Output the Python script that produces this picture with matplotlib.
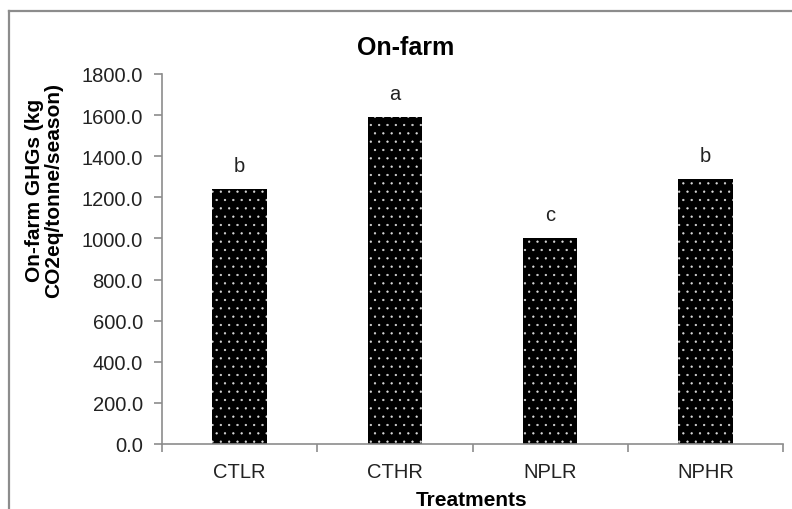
import matplotlib
matplotlib.use("Agg")
import matplotlib.pyplot as plt
from matplotlib.lines import Line2D

plt.rcParams["font.family"] = ["Liberation Sans", "DejaVu Sans"]
plt.rcParams["hatch.linewidth"] = 0.4

treatments = ["CTLR", "CTHR", "NPLR", "NPHR"]
ghg_values = [1240.0, 1592.0, 1003.0, 1287.0]
letters = ["b", "a", "c", "b"]
y_ticks = [0, 200, 400, 600, 800, 1000, 1200, 1400, 1600, 1800]

title = "On-farm"
y_label = "On-farm GHGs (kg\nCO2eq/tonne/season)"
x_label = "Treatments"

GRAY = "#8c8c8c"
TXT = "#222222"


def main():
    fig = plt.figure(figsize=(7.92, 5.10), dpi=100)
    ax = fig.add_axes([162 / 792, 65 / 510, 621 / 792, 370 / 510])

    xs = list(range(1, len(treatments) + 1))
    ax.bar(xs, ghg_values, width=0.35, color="black", edgecolor="#dddddd",
           linewidth=0, hatch="..")

    for x, v, lab in zip(xs, ghg_values, letters):
        ax.annotate(lab, xy=(x, v), xytext=(0, 17), textcoords="offset points",
                    ha="center", va="center", fontsize=14.5, color=TXT)

    ax.set_xlim(0.5, len(treatments) + 0.5)
    ax.set_ylim(0, 1800)
    ax.set_yticks(y_ticks)
    ax.set_yticklabels([f"{t:.1f}" for t in y_ticks])
    ax.set_xticks(xs)
    ax.set_xticklabels(treatments)
    ax.set_xticks([x + 0.5 for x in range(len(treatments) + 1)], minor=True)

    for side in ("top", "right"):
        ax.spines[side].set_visible(False)
    for side in ("left", "bottom"):
        ax.spines[side].set_color(GRAY)
        ax.spines[side].set_linewidth(1.2)

    ax.tick_params(axis="y", length=5.8, width=1.2, color=GRAY, pad=8,
                   labelsize=14.5, labelcolor=TXT)
    ax.tick_params(axis="x", which="major", length=0, pad=13,
                   labelsize=14.5, labelcolor=TXT)
    ax.tick_params(axis="x", which="minor", length=5.5, width=1.2, color=GRAY)

    fig.text(406 / 792, 1 - 48 / 510, title, ha="center", va="center",
             fontsize=18, fontweight="bold", color="black")
    fig.text(44 / 792, 1 - 190 / 510, y_label, ha="center", va="center",
             rotation=90, fontsize=15, fontweight="bold", linespacing=1.05,
             color="black")
    fig.text(472 / 792, 1 - 501 / 510, x_label, ha="center", va="center",
             fontsize=15, fontweight="bold", color="black")

    # figure frame (left and top edges visible)
    fx, fy = 8.5 / 792, 1 - 11.5 / 510
    fig.add_artist(Line2D([fx, fx], [0, fy], transform=fig.transFigure,
                          color=GRAY, linewidth=1.6))
    fig.add_artist(Line2D([fx, 1], [fy, fy], transform=fig.transFigure,
                          color=GRAY, linewidth=1.6))

    fig.savefig("out.png", dpi=100)


if __name__ == "__main__":
    main()
